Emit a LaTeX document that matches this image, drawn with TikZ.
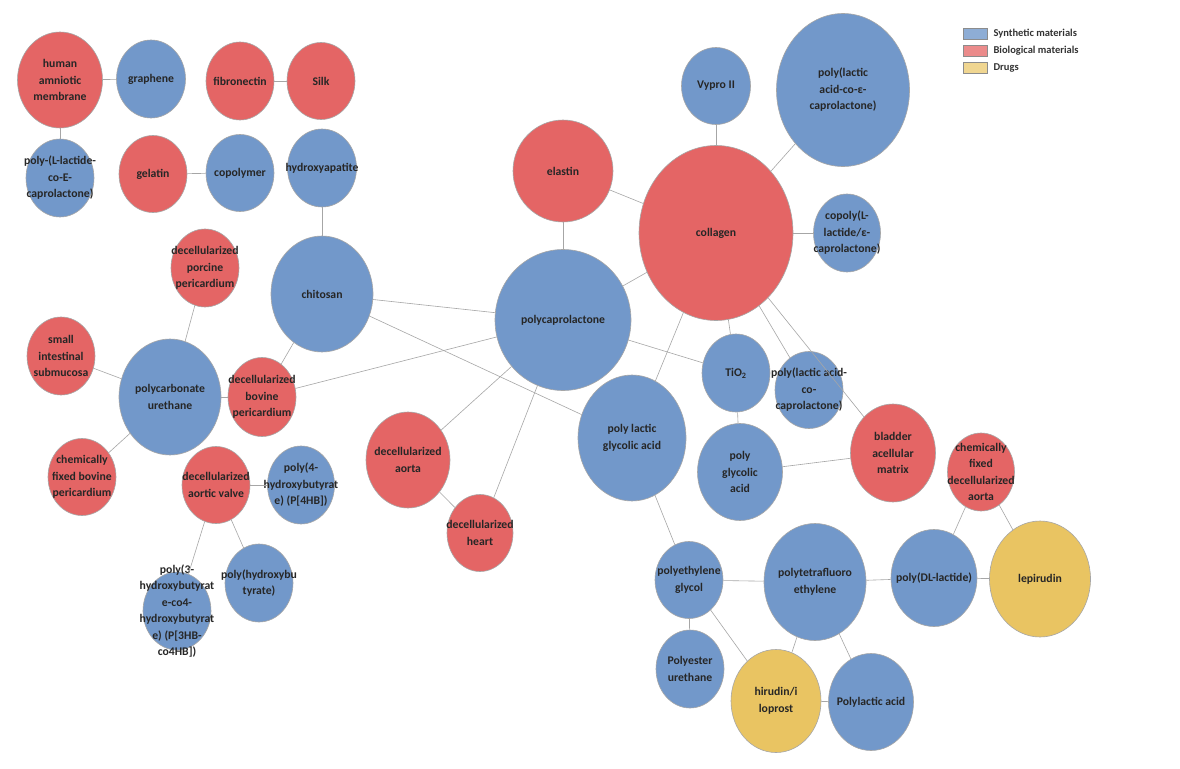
\documentclass[tikz,border=0pt]{standalone}
\usepackage{fontspec}
\setmainfont{Carlito}
\usetikzlibrary{shapes.geometric}
\definecolor{syn}{HTML}{7298CA}
\definecolor{bio}{HTML}{E46565}
\definecolor{drg}{HTML}{E9C462}
\tikzset{
 x=1pt,y=-1pt,
 m/.style={ellipse,draw=black!35,line width=0.6pt,inner sep=0pt},
 S/.style={m,fill=syn},B/.style={m,fill=bio},D/.style={m,fill=drg},
 sz/.style 2 args={minimum width=#1pt,minimum height=#2pt},
 t/.style={label={[align=center,inner sep=0pt,font=\fontsize{11.7}{16.5}\selectfont\bfseries,text=black!85]center:#1}},
 e/.style={draw=black!35,line width=0.6pt},
 lg/.style={draw=black!45,minimum width=24pt,minimum height=11pt,inner sep=0pt},
 lt/.style={anchor=west,font=\fontsize{10.5}{12}\selectfont\bfseries,text=black!80}
}
\begin{document}
\begin{tikzpicture}
\useasboundingbox (0,0) rectangle (1180,768);
\fill[white] (0,0) rectangle (1180,768);
\node[B,sz={85}{96},t={human\\amniotic\\membrane}] (ham) at (60,80) {};
\node[S,sz={69}{78},t={graphene}] (gra) at (151,79) {};
\node[B,sz={68}{78},t={fibronectin}] (fib) at (240,81) {};
\node[B,sz={68}{77},t={Silk}] (silk) at (321,81) {};
\node[S,sz={68}{78},t={poly-(L-lactide-\\co-E-\\caprolactone)}] (plce) at (60,178) {};
\node[B,sz={68}{77},t={gelatin}] (gel) at (153,174) {};
\node[S,sz={68}{77},t={copolymer}] (cop) at (240,173) {};
\node[S,sz={69}{78},t={hydroxyapatite}] (hyd) at (322,168) {};
\node[B,sz={100}{102},t={elastin}] (ela) at (563,171) {};
\node[B,sz={68}{78},t={decellularized\\porcine\\pericardium}] (por) at (205,268) {};
\node[S,sz={102}{116},t={chitosan}] (chi) at (322,294) {};
\node[S,sz={136}{141},t={polycaprolactone}] (pcl) at (563,320) {};
\node[B,sz={68}{78},t={small\\intestinal\\submucosa}] (sis) at (61,356) {};
\node[S,sz={102}{116},t={polycarbonate\\urethane}] (pcu) at (170,397) {};
\node[B,sz={68}{79},t={decellularized\\bovine\\pericardium}] (dbp) at (262,397) {};
\node[B,sz={68}{77},t={chemically\\fixed bovine\\pericardium}] (cfb) at (82,477) {};
\node[B,sz={68}{77},t={decellularized\\aortic valve}] (dav) at (216,485) {};
\node[S,sz={67}{78},t={poly(4-\\hydroxybutyrat\\e) (P[4HB])}] (p4) at (301,485) {};
\node[S,sz={68}{78},t={poly(3-\\hydroxybutyrat\\e-co4-\\hydroxybutyrat\\e) (P[3HB-\\co4HB])}] (p3) at (177,611) {};
\node[S,sz={68}{78},t={poly(hydroxybu\\tyrate)}] (phb) at (259,583) {};
\node[B,sz={84}{96},t={decellularized\\aorta}] (dao) at (408,460) {};
\node[B,sz={66}{77},t={decellularized\\heart}] (dhe) at (480,533) {};
\node[S,sz={69}{77},t={Vypro II}] (vyp) at (716,86) {};
\node[S,sz={133}{153},t={poly(lactic\\acid-co-ε-\\caprolactone)}] (plac) at (843,90) {};
\node[B,sz={154}{175},t={collagen}] (col) at (716,233) {};
\node[S,sz={67}{78},t={copoly(L-\\lactide/ε-\\caprolactone)}] (cpl) at (847,233) {};
\node[S,sz={68}{78},t={TiO\textsubscript{2}}] (tio) at (736,373) {};
\node[S,sz={68}{77},t={poly(lactic acid-\\co-\\caprolactone)}] (placl) at (809,390) {};
\node[S,sz={108}{126},t={poly lactic\\glycolic acid}] (plga) at (632,438) {};
\node[S,sz={85}{97},t={poly\\glycolic\\acid}] (pga) at (740,472) {};
\node[B,sz={85}{98},t={bladder\\acellular\\matrix}] (bam) at (893,453) {};
\node[B,sz={67}{78},t={chemically\\fixed\\decellularized\\aorta}] (cfda) at (981,472) {};
\node[S,sz={68}{77},t={polyethylene\\glycol}] (peg) at (689,580) {};
\node[S,sz={102}{117},t={polytetrafluoro\\ethylene}] (ptfe) at (815,582) {};
\node[S,sz={86}{97},t={poly(DL-lactide)}] (pdl) at (934,578) {};
\node[D,sz={101}{116},t={lepirudin}] (lep) at (1040,579) {};
\node[S,sz={68}{78},t={Polyester\\urethane}] (peu) at (690,669) {};
\node[D,sz={90}{103},t={hirudin/i\\loprost}] (hir) at (776,701) {};
\node[S,sz={85}{97},t={Polylactic acid}] (pla) at (871,702) {};
\foreach \a/\b in {ham/gra,fib/silk,ham/plce,gel/cop,hyd/chi,chi/pcl,chi/dbp,chi/plga,pcl/dbp,por/pcu,sis/pcu,pcu/dbp,pcu/cfb,dav/p4,dav/p3,dav/phb,ela/pcl,ela/col,pcl/dao,pcl/dhe,pcl/tio,dao/dhe,col/vyp,col/plac,col/cpl,col/pcl,col/tio,col/plga,col/placl,col/bam,tio/pga,pga/bam,plga/peg,peg/ptfe,peg/peu,peg/hir,ptfe/hir,ptfe/pla,ptfe/pdl,pdl/cfda,pdl/lep,cfda/lep,hir/pla}
 \draw[e] (\a) -- (\b);
\node[lg,fill=syn!80] (l1) at (975,34) {};
\node[lg,fill=bio!75] (l2) at (975,51) {};
\node[lg,fill=drg!70] (l3) at (975,68) {};
\node[lt] (t1) at (990,34) {Synthetic materials};
\node[lt] (t2) at (990,51) {Biological materials};
\node[lt] (t3) at (990,68) {Drugs};
\end{tikzpicture}
\end{document}
